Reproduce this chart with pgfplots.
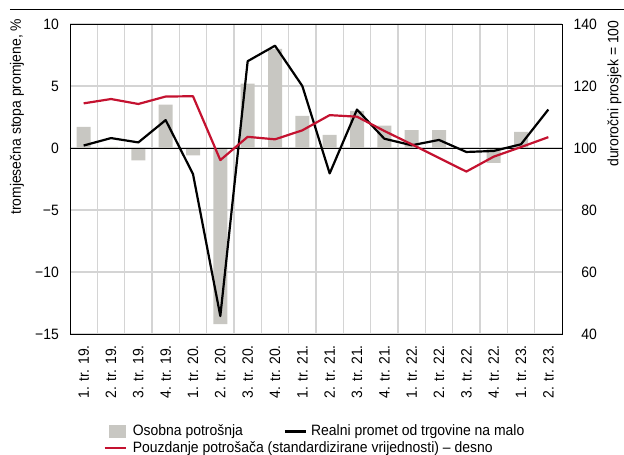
\documentclass[border=0pt]{standalone}
\usepackage{fontspec}
\setmainfont{Liberation Sans}[FakeStretch=0.93]
\usepackage{pgfplots}
\pgfplotsset{compat=1.18}
\definecolor{barc}{RGB}{200,199,194}
\definecolor{redc}{RGB}{196,18,48}
\definecolor{gridc}{RGB}{212,212,212}
\begin{document}
\fontsize{15bp}{18bp}\selectfont
\begin{tikzpicture}
\path[use as bounding box] (-70bp,-121bp) rectangle (554bp,334bp);
\draw[line width=0.9bp] (-60bp,325bp) -- (554bp,325bp);
\begin{axis}[
  at={(0,0)}, anchor=south west,
  scale only axis, width=492bp, height=310bp,
  xmin=-0.5, xmax=17.5, ymin=-15, ymax=10,
  axis line style={black, line width=0.8bp},
  major tick length=0pt, minor tick length=0pt,
  xtick pos=bottom, ytick pos=left,
  xtick={0,...,17},
  xticklabels={1. tr. 19.,2. tr. 19.,3. tr. 19.,4. tr. 19.,1. tr. 20.,2. tr. 20.,3. tr. 20.,4. tr. 20.,1. tr. 21.,2. tr. 21.,3. tr. 21.,4. tr. 21.,1. tr. 22.,2. tr. 22.,3. tr. 22.,4. tr. 22.,1. tr. 23.,2. tr. 23.},
  xticklabel style={rotate=90, anchor=east, inner sep=0pt},
  xticklabel shift=11bp,
  minor xtick={0.5,1.5,...,16.5},
  xminorgrids, minor grid style={gridc, line width=1.1bp},
  ytick={-15,-10,-5,0,5,10},
  yticklabels={−15,−10,−5,0,5,10},
  yticklabel style={inner sep=0pt},
  yticklabel shift=11bp,
  ymajorgrids, major grid style={gridc, line width=1.1bp},
  ylabel={tromjesečna stopa promjene, \%},
  ylabel style={at={(axis description cs:-0.1077,1.018)}, anchor=east, inner sep=0pt},
]
\addplot[ybar, bar width=14bp, fill=barc, draw=none] coordinates {
(0,1.7) (1,0.1) (2,-1.0) (3,3.5) (4,-0.6) (5,-14.2) (6,5.2) (7,8.0) (8,2.6)
(9,1.05) (10,3.0) (11,1.8) (12,1.45) (13,1.45) (15,-1.2) (16,1.3)};
\addplot[black, line width=0.8bp, forget plot] coordinates {(-0.5,0) (17.5,0)};
\addplot[black, line width=2.2bp, line join=round] coordinates {
(0,0.2) (1,0.8) (2,0.45) (3,2.25) (4,-2.1) (5,-13.55) (6,7.0) (7,8.25) (8,5.0)
(9,-2.05) (10,3.1) (11,0.75) (12,0.22) (13,0.65) (14,-0.32) (15,-0.24) (16,0.3) (17,3.1)};
\end{axis}
\begin{axis}[
  at={(0,0)}, anchor=south west,
  scale only axis, width=492bp, height=310bp,
  xmin=-0.5, xmax=17.5, ymin=40, ymax=140,
  axis x line=none, axis y line*=right,
  axis line style={black, line width=0.8bp},
  major tick length=0pt,
  ytick={40,60,80,100,120,140},
  yticklabels={40,60,80,100,120,140},
  yticklabel style={anchor=east, inner sep=0pt},
  yticklabel shift=35bp,
  ylabel={duroročni prosjek = 100},
  ylabel style={at={(axis description cs:1.1067,1.012)}, anchor=east, inner sep=0pt},
  legend columns=2,
  legend cell align=left,
  legend style={at={(axis description cs:0.0681,-0.2935)}, anchor=north west,
    draw=none, fill=none, inner sep=0pt, outer sep=0pt, row sep=3.5bp, column sep=0pt,
    nodes={inner sep=0pt}},
]
\addplot[redc, line width=2.2bp, line join=round, forget plot] coordinates {
(0,114.4) (1,115.8) (2,114.2) (3,116.6) (4,116.7) (5,96.1) (6,103.6) (7,102.8) (8,105.7)
(9,110.6) (10,110.1) (11,105.5) (12,101.2) (13,96.8) (14,92.4) (15,97.2) (16,100.3) (17,103.5)};
\addlegendimage{legend image code/.code={\fill[barc] (5bp,-6bp) rectangle (21bp,6bp); \path (0bp,0bp) (28bp,0bp);}}
\addlegendentry{\makebox[151bp][l]{Osobna potrošnja}}
\addlegendimage{legend image code/.code={\draw[black, line width=2.2bp] (0bp,0bp) -- (21bp,0bp); \path (26bp,0bp);}}
\addlegendentry{Realni promet od trgovine na malo}
\addlegendimage{legend image code/.code={\draw[redc, line width=2.2bp] (0bp,0bp) -- (21bp,0bp); \path (28bp,0bp);}}
\addlegendentry{\makebox[151bp][l]{Pouzdanje potrošača (standardizirane vrijednosti) – desno}}
\end{axis}
\end{tikzpicture}
\end{document}
